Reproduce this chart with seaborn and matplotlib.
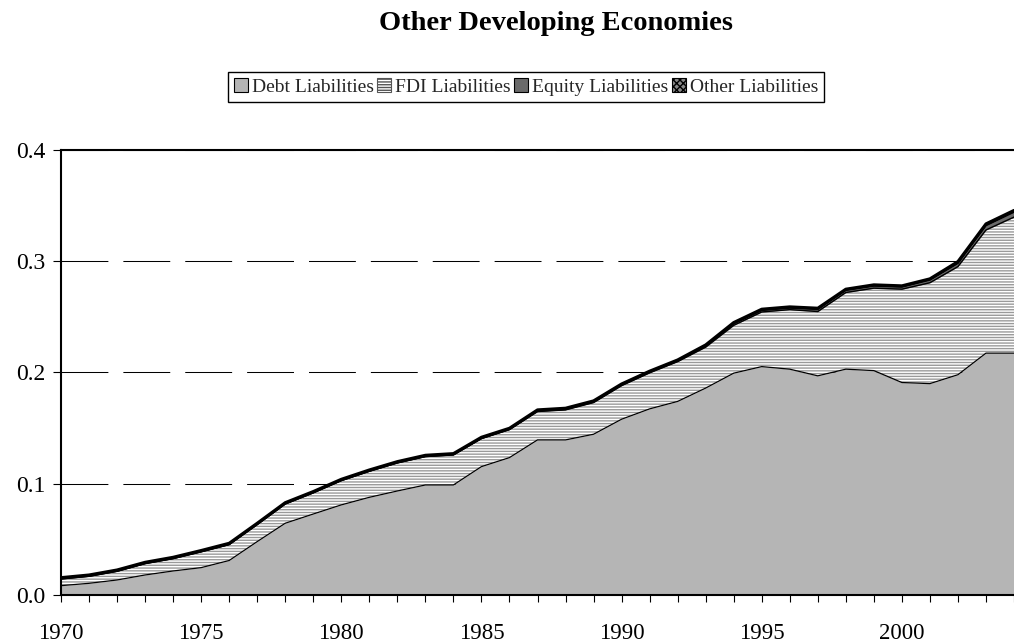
import numpy as np
import pandas as pd
import seaborn as sns
import matplotlib.pyplot as plt
from matplotlib.patches import Patch

# Data (share of GDP)
years = list(range(1970, 2005))
debt = [0.0084, 0.0105, 0.0135, 0.0180, 0.0216, 0.0246, 0.0310, 0.0480, 0.0645, 0.0728,
        0.0810, 0.0878, 0.0935, 0.0989, 0.0989, 0.1154, 0.1235, 0.1394, 0.1394, 0.1445,
        0.1580, 0.1673, 0.1740, 0.1860, 0.1994, 0.2053, 0.2030, 0.1970, 0.2030, 0.2017,
        0.1910, 0.1900, 0.1980, 0.2174, 0.2174]
fdi = [0.0060, 0.0063, 0.0078, 0.0102, 0.0111, 0.0142, 0.0143, 0.0153, 0.0173, 0.0190,
       0.0218, 0.0234, 0.0252, 0.0255, 0.0270, 0.0252, 0.0252, 0.0255, 0.0270, 0.0285,
       0.0302, 0.0324, 0.0358, 0.0368, 0.0430, 0.0491, 0.0535, 0.0578, 0.0689, 0.0741,
       0.0839, 0.0907, 0.0972, 0.1107, 0.1223]
equity = [0.0002, 0.0002, 0.0002, 0.0002, 0.0002, 0.0002, 0.0002, 0.0002, 0.0002, 0.0002,
          0.0002, 0.0002, 0.0002, 0.0002, 0.0002, 0.0002, 0.0002, 0.0005, 0.0005, 0.0005,
          0.0005, 0.0005, 0.0005, 0.0010, 0.0015, 0.0015, 0.0015, 0.0020, 0.0020, 0.0020,
          0.0020, 0.0025, 0.0030, 0.0040, 0.0045]
other = [0.0010] * 32 + [0.0015, 0.0015, 0.0015]

labels = ["Debt Liabilities", "FDI Liabilities", "Equity Liabilities", "Other Liabilities"]

sns.set_theme(style="ticks")
plt.rcParams['font.family'] = ['Liberation Serif', 'DejaVu Serif']
plt.rcParams['hatch.linewidth'] = 1.0

df = pd.DataFrame({labels[0]: debt, labels[1]: fdi, labels[2]: equity, labels[3]: other},
                  index=years)
cum = df.cumsum(axis=1)

fig = plt.figure(figsize=(10.14, 6.44), dpi=100)
ax = fig.add_axes([61 / 1014, 49 / 644, 953 / 1014, 445 / 644])

# band styles: face, hatch, hatch colour
styles = [
    ("#b5b5b5", None, "#b5b5b5"),
    ("white", "------", "#9a9a9a"),
    ("#6a6a6a", None, "#6a6a6a"),
    ("#2a2a2a", None, "#2a2a2a"),
]

lower = np.zeros(len(years))
for name, (face, hatch, hcol) in zip(labels, styles):
    upper = cum[name].values
    ax.fill_between(years, lower, upper, facecolor=face, hatch=hatch,
                    edgecolor=hcol, linewidth=0, zorder=2)
    lower = upper

# boundary lines
widths = [0.9, 1.0, 1.2, 2.2]
for name, lw in zip(labels, widths):
    sns.lineplot(x=years, y=cum[name].values, color="black", linewidth=lw,
                 ax=ax, zorder=3)

ax.set_xlim(1970, 1970 + 953 / 28.2)
ax.set_ylim(0, 0.4)
ax.set_yticks([0.0, 0.1, 0.2, 0.3, 0.4])
ax.set_yticklabels(["0.0", "0.1", "0.2", "0.3", "0.4"])
ax.set_xticks(range(1970, 2005, 5))
ax.set_xticks(years, minor=True)

ax.set_axisbelow(True)
ax.yaxis.grid(True, color="black", linewidth=0.75, linestyle=(0, (45, 14.4)))
ax.xaxis.grid(False)

for side in ["left", "bottom", "top"]:
    ax.spines[side].set_visible(True)
    ax.spines[side].set_color("black")
    ax.spines[side].set_linewidth(1.5)
ax.spines["right"].set_visible(False)

ax.tick_params(axis="both", which="both", direction="out", color="black",
               width=0.8, labelcolor="black")
ax.tick_params(axis="x", which="both", length=5, pad=15, labelsize=16.5)
ax.tick_params(axis="y", which="both", length=5.5, pad=6, labelsize=17)
ax.set_xlabel("")
ax.set_ylabel("")

fig.text(556 / 1014, 1 - 24 / 644, "Other Developing Economies", ha="center",
         va="center", fontsize=20.5, fontweight="bold", color="black")

handles = [
    Patch(facecolor="#b5b5b5", edgecolor="black", linewidth=0.8),
    Patch(facecolor="white", edgecolor="#555555", hatch="------", linewidth=0.8),
    Patch(facecolor="#6a6a6a", edgecolor="black", linewidth=0.8),
    Patch(facecolor="#888888", edgecolor="black", hatch="xxxxx", linewidth=0.8),
]
leg = fig.legend(handles, labels, loc="center", bbox_to_anchor=(526 / 1014, 1 - 87 / 644),
                 ncol=4, frameon=True, fancybox=False, edgecolor="black", framealpha=1,
                 handlelength=0.7, handleheight=0.7, handletextpad=0.2,
                 columnspacing=0.2, borderpad=0.3, borderaxespad=0.2, fontsize=14)
leg.get_frame().set_linewidth(1.0)

fig.savefig("out.png", dpi=100)
